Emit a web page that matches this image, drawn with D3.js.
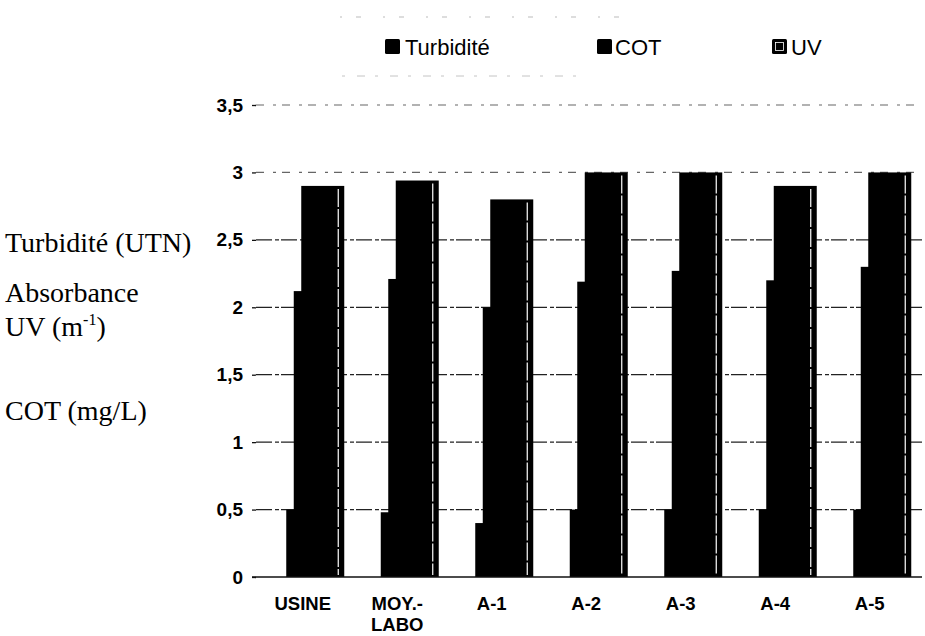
<!DOCTYPE html>
<html>
<head>
<meta charset="utf-8">
<script src="https://cdn.jsdelivr.net/npm/d3@7"></script>
<style>
  html, body { margin: 0; padding: 0; background: #fff; }
  svg { display: block; }
</style>
</head>
<body>
<div id="chart"></div>
<script>
// Sample points and measured parameters
const categories = ["USINE", "MOY.-\nLABO", "A-1", "A-2", "A-3", "A-4", "A-5"];
const seriesNames = ["Turbidité", "COT", "UV"];
const turbidite = [0.50, 0.48, 0.40, 0.50, 0.50, 0.50, 0.50];
const cot       = [2.12, 2.21, 2.00, 2.19, 2.27, 2.20, 2.30];
const uv        = [2.90, 2.94, 2.80, 3.00, 3.00, 2.90, 3.00];
const yTicks = [0, 0.5, 1, 1.5, 2, 2.5, 3, 3.5];
const yTickLabels = ["0", "0,5", "1", "1,5", "2", "2,5", "3", "3,5"];

const seriesValues = [turbidite, cot, uv];

const W = 925, H = 636;
const sans = "'Liberation Sans', Arial, sans-serif";
const serif = "'Liberation Serif', 'Times New Roman', serif";

const svg = d3.select("#chart").append("svg")
  .attr("width", W).attr("height", H);

const x = d3.scaleBand().domain(categories).range([255.5, 917]).padding(0);
const y = d3.scaleLinear().domain([0, 3.5]).range([577, 105]);
// overlapping sub-bars, each shifted a little to the right of the previous one
const sub = d3.scalePoint().domain(seriesNames).range([-16.5, -1.5]);
const barW = 43;

// gridlines
const grid = svg.append("g");
grid.selectAll("line").data(yTicks.filter(v => v > 0)).join("line")
  .attr("x1", 256).attr("x2", 922)
  .attr("y1", d => y(d)).attr("y2", d => y(d))
  .attr("stroke", d => d >= 3 ? "#666" : "#222")
  .attr("stroke-width", 1.2)
  .attr("stroke-dasharray", d => d >= 3 ? "8,9,3,6" : "16,3,4,2");

// y axis: tick marks and labels, no domain line
const yAxis = d3.axisLeft(y).tickValues(yTicks)
  .tickFormat((d, i) => yTickLabels[i]).tickSize(4).tickPadding(9);
const ya = svg.append("g").attr("transform", "translate(256,0)").call(yAxis);
ya.select(".domain").remove();
ya.selectAll(".tick line").attr("stroke", "#111").attr("stroke-width", 1.3);
ya.selectAll(".tick text")
  .attr("font-family", sans).attr("font-size", 19).attr("font-weight", "bold")
  .attr("fill", "#000");

// bars
const bars = svg.append("g");
seriesNames.forEach((s, si) => {
  bars.append("g").selectAll("rect").data(categories).join("rect")
    .attr("x", d => x(d) + x.bandwidth() / 2 + sub(s))
    .attr("width", barW)
    .attr("y", (d, i) => y(seriesValues[si][i]))
    .attr("height", (d, i) => y(0) - y(seriesValues[si][i]))
    .attr("fill", "#000");
});
// inner white edge of the UV bars
bars.append("g").selectAll("line").data(categories).join("line")
  .attr("x1", d => x(d) + x.bandwidth() / 2 + sub("UV") + barW - 6)
  .attr("x2", d => x(d) + x.bandwidth() / 2 + sub("UV") + barW - 6)
  .attr("y1", (d, i) => y(uv[i]) + 3)
  .attr("y2", y(0) - 2)
  .attr("stroke", "#fff").attr("stroke-width", 1.2)
  .attr("stroke-dasharray", "18,2");

// baseline
svg.append("line").attr("x1", 252).attr("x2", 922)
  .attr("y1", y(0)).attr("y2", y(0))
  .attr("stroke", "#111").attr("stroke-width", 1.5);

// category labels
const xl = svg.append("g");
categories.forEach(c => {
  const t = xl.append("text")
    .attr("x", x(c) + x.bandwidth() / 2).attr("y", 610)
    .attr("text-anchor", "middle")
    .attr("font-family", sans).attr("font-size", 18.5).attr("font-weight", "bold");
  c.split("\n").forEach((line, k) => {
    t.append("tspan").attr("x", x(c) + x.bandwidth() / 2)
      .attr("dy", k === 0 ? 0 : 21).text(line);
  });
});

// legend
const legendItems = [
  { name: "Turbidité", sx: 385, tx: 405 },
  { name: "COT", sx: 597, tx: 615 },
  { name: "UV", sx: 772, tx: 791 }
];
const lg = svg.append("g");
lg.selectAll("rect.sw").data(legendItems).join("rect").attr("class", "sw")
  .attr("x", d => d.sx).attr("y", 39).attr("width", 15).attr("height", 15)
  .attr("rx", 1.5).attr("fill", "#000");
lg.append("rect").attr("x", 775.5).attr("y", 42.5).attr("width", 8).attr("height", 8)
  .attr("fill", "none").attr("stroke", "#fff").attr("stroke-width", 0.8);
lg.selectAll("text").data(legendItems).join("text")
  .attr("x", d => d.tx).attr("y", 55)
  .attr("font-family", sans).attr("font-size", 22)
  .attr("fill", "#000").text(d => d.name);
// faint legend frame
lg.append("line").attr("x1", 340).attr("x2", 628).attr("y1", 17).attr("y2", 17)
  .attr("stroke", "#bbb").attr("stroke-width", 1).attr("stroke-dasharray", "2,14,5,22");
lg.append("line").attr("x1", 342).attr("x2", 580).attr("y1", 76).attr("y2", 76)
  .attr("stroke", "#c4c4c4").attr("stroke-width", 1).attr("stroke-dasharray", "3,12,8,10");

// axis description on the left
const left = svg.append("g").attr("font-family", serif).attr("font-size", 28).attr("fill", "#000");
left.append("text").attr("x", 5).attr("y", 252).text("Turbidité (UTN)");
left.append("text").attr("x", 5).attr("y", 302).text("Absorbance");
const uvLabel = left.append("text").attr("x", 5).attr("y", 336);
uvLabel.append("tspan").text("UV (m");
uvLabel.append("tspan").attr("font-size", 16).attr("dy", -11).text("-1");
uvLabel.append("tspan").attr("dy", 11).text(")");
left.append("text").attr("x", 5).attr("y", 420).text("COT (mg/L)");
</script>
</body>
</html>
